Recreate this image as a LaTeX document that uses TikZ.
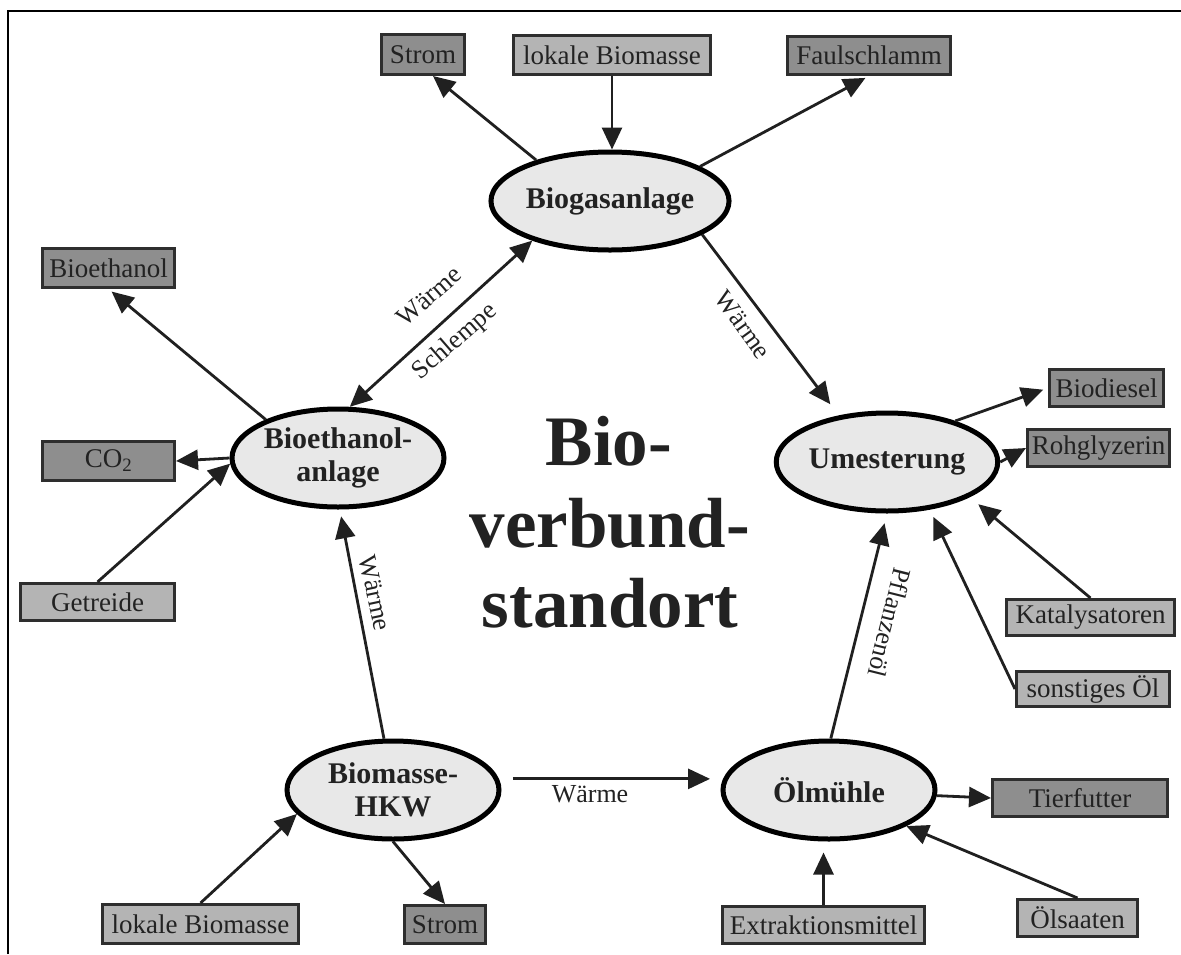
\documentclass[tikz,border=0pt]{standalone}
\usepackage{fontspec}
\setmainfont{Liberation Serif}
\usetikzlibrary{shapes.geometric,arrows.meta,calc}

\definecolor{hubfill}{HTML}{E8E8E8}
\definecolor{darkfill}{HTML}{8E8E8E}
\definecolor{lightfill}{HTML}{B4B4B4}
\definecolor{boxedge}{HTML}{2E2E2E}
\definecolor{linecol}{HTML}{202020}
\definecolor{textdark}{HTML}{222222}

\tikzset{
  hub/.style={ellipse, draw=black, line width=5pt, fill=hubfill,
    minimum width=212pt, minimum height=98pt, inner sep=0pt, align=center,
    text=textdark, font=\bfseries\fontsize{30}{33}\selectfont},
  prodbox/.style={rectangle, draw=boxedge, line width=3pt, fill=darkfill,
    inner sep=0pt, text=textdark, font=\fontsize{27}{30}\selectfont},
  inbox/.style={prodbox, fill=lightfill},
  conn/.style={line width=2.8pt, draw=linecol, ->},
  lbl/.style={inner sep=0pt, text=textdark, font=\fontsize{26}{29}\selectfont},
  bigtext/.style={inner sep=0pt, text=textdark, font=\bfseries\fontsize{71}{81}\selectfont},
}

\begin{document}
\begin{tikzpicture}[x=1pt, y=-1pt, >={Triangle[length=22pt,width=20pt]}]
\useasboundingbox (0,0) rectangle (1181,954);

% open frame (left and top edges)
\draw[line width=2.5pt, black, line join=miter] (8,954) -- (8,11) -- (1181,11);

% plants
\node[hub] (bg)  at (610,201) {Biogasanlage};
\node[hub] (bet) at (338,458) {Bioethanol-\\anlage};
\node[hub] (um)  at (887,462) {Umesterung};
\node[hub] (hkw) at (393,790) {Biomasse-\\HKW};
\node[hub] (om)  at (829,790) {Ölmühle};

% centre title
\node[bigtext, anchor=base] (t1) at (609,465) {Bio-};
\node[bigtext, anchor=base] (t2) at (610,547) {verbund-};
\node[bigtext, anchor=base] (t3) at (610,627) {standort};

% inputs and products
\node[prodbox, minimum width=83pt,  minimum height=40pt] (st1) at (423,54.5)   {Strom};
\node[inbox,   minimum width=197pt, minimum height=39pt] (lb1) at (612,55)     {lokale Biomasse};
\node[prodbox, minimum width=163pt, minimum height=38pt] (fs)  at (869,55.5)   {Faulschlamm};
\node[prodbox, minimum width=132pt, minimum height=39pt] (be)  at (108.5,268)  {Bioethanol};
\node[prodbox, minimum width=132pt, minimum height=39pt] (co)  at (108.5,461)  {CO\textsubscript{2}};
\node[inbox,   minimum width=154pt, minimum height=37pt] (gt)  at (97.5,602)   {Getreide};
\node[prodbox, minimum width=114pt, minimum height=37pt] (bd)  at (1106.5,388) {Biodiesel};
\node[prodbox, minimum width=142pt, minimum height=37pt] (rg)  at (1098.5,448) {Rohglyzerin};
\node[inbox,   minimum width=168pt, minimum height=36pt] (ka)  at (1090.5,617.5) {Katalysatoren};
\node[inbox,   minimum width=153pt, minimum height=35pt] (so)  at (1093,689)   {sonstiges Öl};
\node[prodbox, minimum width=175pt, minimum height=37pt] (tf)  at (1080,798)   {Tierfutter};
\node[inbox,   minimum width=120pt, minimum height=37pt] (ol)  at (1077.5,918) {Ölsaaten};
\node[inbox,   minimum width=202pt, minimum height=37pt] (em)  at (823.5,925)  {Extraktionsmittel};
\node[prodbox, minimum width=81pt,  minimum height=38pt] (st2) at (445,924.5)  {Strom};
\node[inbox,   minimum width=196pt, minimum height=39pt] (lb2) at (200.5,924)  {lokale Biomasse};

% Biogasanlage
\draw[conn] (bg.151) -- ($(st1.south)+(10,0)$);
\draw[conn] (lb1.south) -- (lb1.south |- bg.north);
\draw[conn, shorten >=4pt] (bg.21) -- (fs.south);
\draw[conn, <->] (bg.207) -- (bet.77);
\draw[conn, shorten >=14pt] (bg.-20) -- (um.136);

% Bioethanolanlage
\draw[conn, shorten >=4pt] (bet.152) -- (be.south);
\draw[conn] (bet.west) -- (co.east);
\draw[conn] (gt.north) -- (bet.183);

% Umesterung
\draw[conn, shorten >=5pt] (um.31) -- (bd.west);
\draw[conn] (um.0) -- (rg.west);
\draw[conn, shorten >=11pt] (ka.north) -- (um.-23);
\draw[conn, shorten >=8pt] (so.west) -- (um.-48);

% Biomasse-HKW
\draw[conn, shorten >=7pt] (hkw.100) -- (bet.272);
\draw[conn, shorten <=14pt, shorten >=13pt] (hkw.6) -- (om.174);
\draw[conn] (lb2.north) -- (hkw.194);
\draw[conn] (hkw.south) -- (st2.north);

% Oelmuehle
\draw[conn, shorten >=10pt] (om.88) -- (um.-90);
\draw[conn] (om.-3) -- (tf.west);
\draw[conn, shorten >=11pt] (em.north) -- (em.north |- om.south);
\draw[conn] (ol.north) -- (om.-25);

% flow labels
\node[lbl, rotate=41]   (w2)  at (429,296) {Wärme};
\node[lbl, rotate=41]   (sch) at (455,342) {Schlempe};
\node[lbl, rotate=-54]  (w1)  at (743,325) {Wärme};
\node[lbl, rotate=-78]  (w3)  at (375,593) {Wärme};
\node[lbl, rotate=-104] (pf)  at (890,623) {Pflanzenöl};
\node[lbl]              (w4)  at (590,794) {Wärme};
\end{tikzpicture}
\end{document}
